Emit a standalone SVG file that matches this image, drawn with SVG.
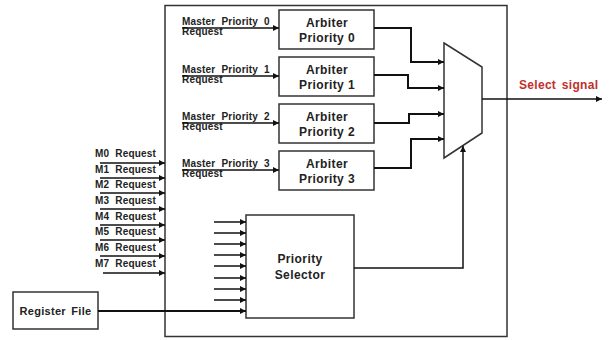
<svg xmlns="http://www.w3.org/2000/svg" width="609" height="340" viewBox="0 0 609 340">
<style>
.box{fill:#fff;stroke:#333;stroke-width:1.5}
.ln{fill:none;stroke:#111;stroke-width:1.5}
.thk{fill:none;stroke:#111;stroke-width:2}
.sm{font-family:"Liberation Sans",Arial,sans-serif;font-size:10px;font-weight:bold;fill:#222;letter-spacing:0.2px;word-spacing:3px}
.lb{font-family:"Liberation Sans",Arial,sans-serif;font-size:12px;font-weight:bold;fill:#222;letter-spacing:0.4px;text-anchor:middle}
.red{font-family:"Liberation Sans",Arial,sans-serif;font-size:12px;font-weight:bold;fill:#c0302c;letter-spacing:0.3px;word-spacing:2px}
</style>
<defs>
<marker id="ah" markerWidth="6" markerHeight="6" refX="6" refY="3" orient="auto" markerUnits="userSpaceOnUse">
<path d="M0,0 L6,3 L0,6 z" fill="#111"/>
</marker>
</defs>
<rect width="609" height="340" fill="#fff"/>
<g id="main-block"><rect class="box" x="165" y="5.5" width="342" height="331"/></g>
<g id="arbiter0"><rect class="box" x="279" y="10" width="95" height="39"/><text class="lb" x="327" y="27">Arbiter</text><text class="lb" x="327" y="42">Priority 0</text></g>
<g id="arbiter1"><rect class="box" x="279" y="57" width="95" height="39"/><text class="lb" x="327" y="74">Arbiter</text><text class="lb" x="327" y="89">Priority 1</text></g>
<g id="arbiter2"><rect class="box" x="279" y="104" width="95" height="39"/><text class="lb" x="327" y="121">Arbiter</text><text class="lb" x="327" y="136">Priority 2</text></g>
<g id="arbiter3"><rect class="box" x="279" y="151" width="95" height="39"/><text class="lb" x="327" y="168">Arbiter</text><text class="lb" x="327" y="183">Priority 3</text></g>
<g id="mux"><polygon class="box" points="444,43 482,67 482,133 444,158"/></g>
<g id="priority-selector"><rect class="box" x="246" y="215" width="108" height="103"/><text class="lb" x="300" y="263">Priority</text><text class="lb" x="300" y="279">Selector</text></g>
<g id="register-file"><rect class="box" x="13" y="292" width="85" height="37"/><text class="lb" x="55.5" y="315" style="font-size:11px;letter-spacing:0.3px;word-spacing:2px">Register File</text></g>
<g id="labels">
<text class="sm" x="182" y="25">Master Priority 0</text><text class="sm" x="182" y="35">Request</text>
<text class="sm" x="182" y="73">Master Priority 1</text><text class="sm" x="182" y="83">Request</text>
<text class="sm" x="182" y="120">Master Priority 2</text><text class="sm" x="182" y="130">Request</text>
<text class="sm" x="182" y="167">Master Priority 3</text><text class="sm" x="182" y="177">Request</text>
<text class="sm" x="95" y="157">M0 Request</text>
<text class="sm" x="95" y="173">M1 Request</text>
<text class="sm" x="95" y="188">M2 Request</text>
<text class="sm" x="95" y="204">M3 Request</text>
<text class="sm" x="95" y="220">M4 Request</text>
<text class="sm" x="95" y="235">M5 Request</text>
<text class="sm" x="95" y="251">M6 Request</text>
<text class="sm" x="95" y="267">M7 Request</text>
<text class="red" x="519" y="89">Select signal</text>
</g>
<g id="connectors">
<line class="ln" x1="182" y1="28" x2="279" y2="28" marker-end="url(#ah)"/>
<line class="ln" x1="182" y1="76" x2="279" y2="76" marker-end="url(#ah)"/>
<line class="ln" x1="182" y1="123" x2="279" y2="123" marker-end="url(#ah)"/>
<line class="ln" x1="182" y1="170" x2="279" y2="170" marker-end="url(#ah)"/>
<polyline class="thk" points="374,28 411,28 411,62 444,62" marker-end="url(#ah)"/>
<polyline class="thk" points="374,75 408,75 408,88 444,88" marker-end="url(#ah)"/>
<polyline class="thk" points="374,123 409,123 409,114 444,114" marker-end="url(#ah)"/>
<polyline class="thk" points="374,168 411,168 411,139 444,139" marker-end="url(#ah)"/>
<line class="ln" x1="482" y1="99" x2="602" y2="99" marker-end="url(#ah)"/>
<polyline class="ln" points="354,268 463,268 463,146" marker-end="url(#ah)"/>
<line class="ln" x1="100" y1="163" x2="165" y2="163" marker-end="url(#ah)"/>
<line class="ln" x1="100" y1="178" x2="165" y2="178" marker-end="url(#ah)"/>
<line class="ln" x1="100" y1="193" x2="165" y2="193" marker-end="url(#ah)"/>
<line class="ln" x1="100" y1="209" x2="165" y2="209" marker-end="url(#ah)"/>
<line class="ln" x1="100" y1="225" x2="165" y2="225" marker-end="url(#ah)"/>
<line class="ln" x1="100" y1="240" x2="165" y2="240" marker-end="url(#ah)"/>
<line class="ln" x1="100" y1="256" x2="165" y2="256" marker-end="url(#ah)"/>
<line class="ln" x1="103" y1="273" x2="165" y2="273" marker-end="url(#ah)"/>
<g class="sel-in">
<line class="ln" x1="214" y1="222" x2="246" y2="222" marker-end="url(#ah)"/>
<line class="ln" x1="214" y1="233" x2="246" y2="233" marker-end="url(#ah)"/>
<line class="ln" x1="214" y1="244" x2="246" y2="244" marker-end="url(#ah)"/>
<line class="ln" x1="214" y1="255" x2="246" y2="255" marker-end="url(#ah)"/>
<line class="ln" x1="214" y1="266" x2="246" y2="266" marker-end="url(#ah)"/>
<line class="ln" x1="214" y1="278" x2="246" y2="278" marker-end="url(#ah)"/>
<line class="ln" x1="214" y1="289" x2="246" y2="289" marker-end="url(#ah)"/>
<line class="ln" x1="214" y1="300" x2="246" y2="300" marker-end="url(#ah)"/>
</g>
<line class="thk" x1="98" y1="311" x2="246" y2="311" marker-end="url(#ah)"/>
</g>
</svg>
